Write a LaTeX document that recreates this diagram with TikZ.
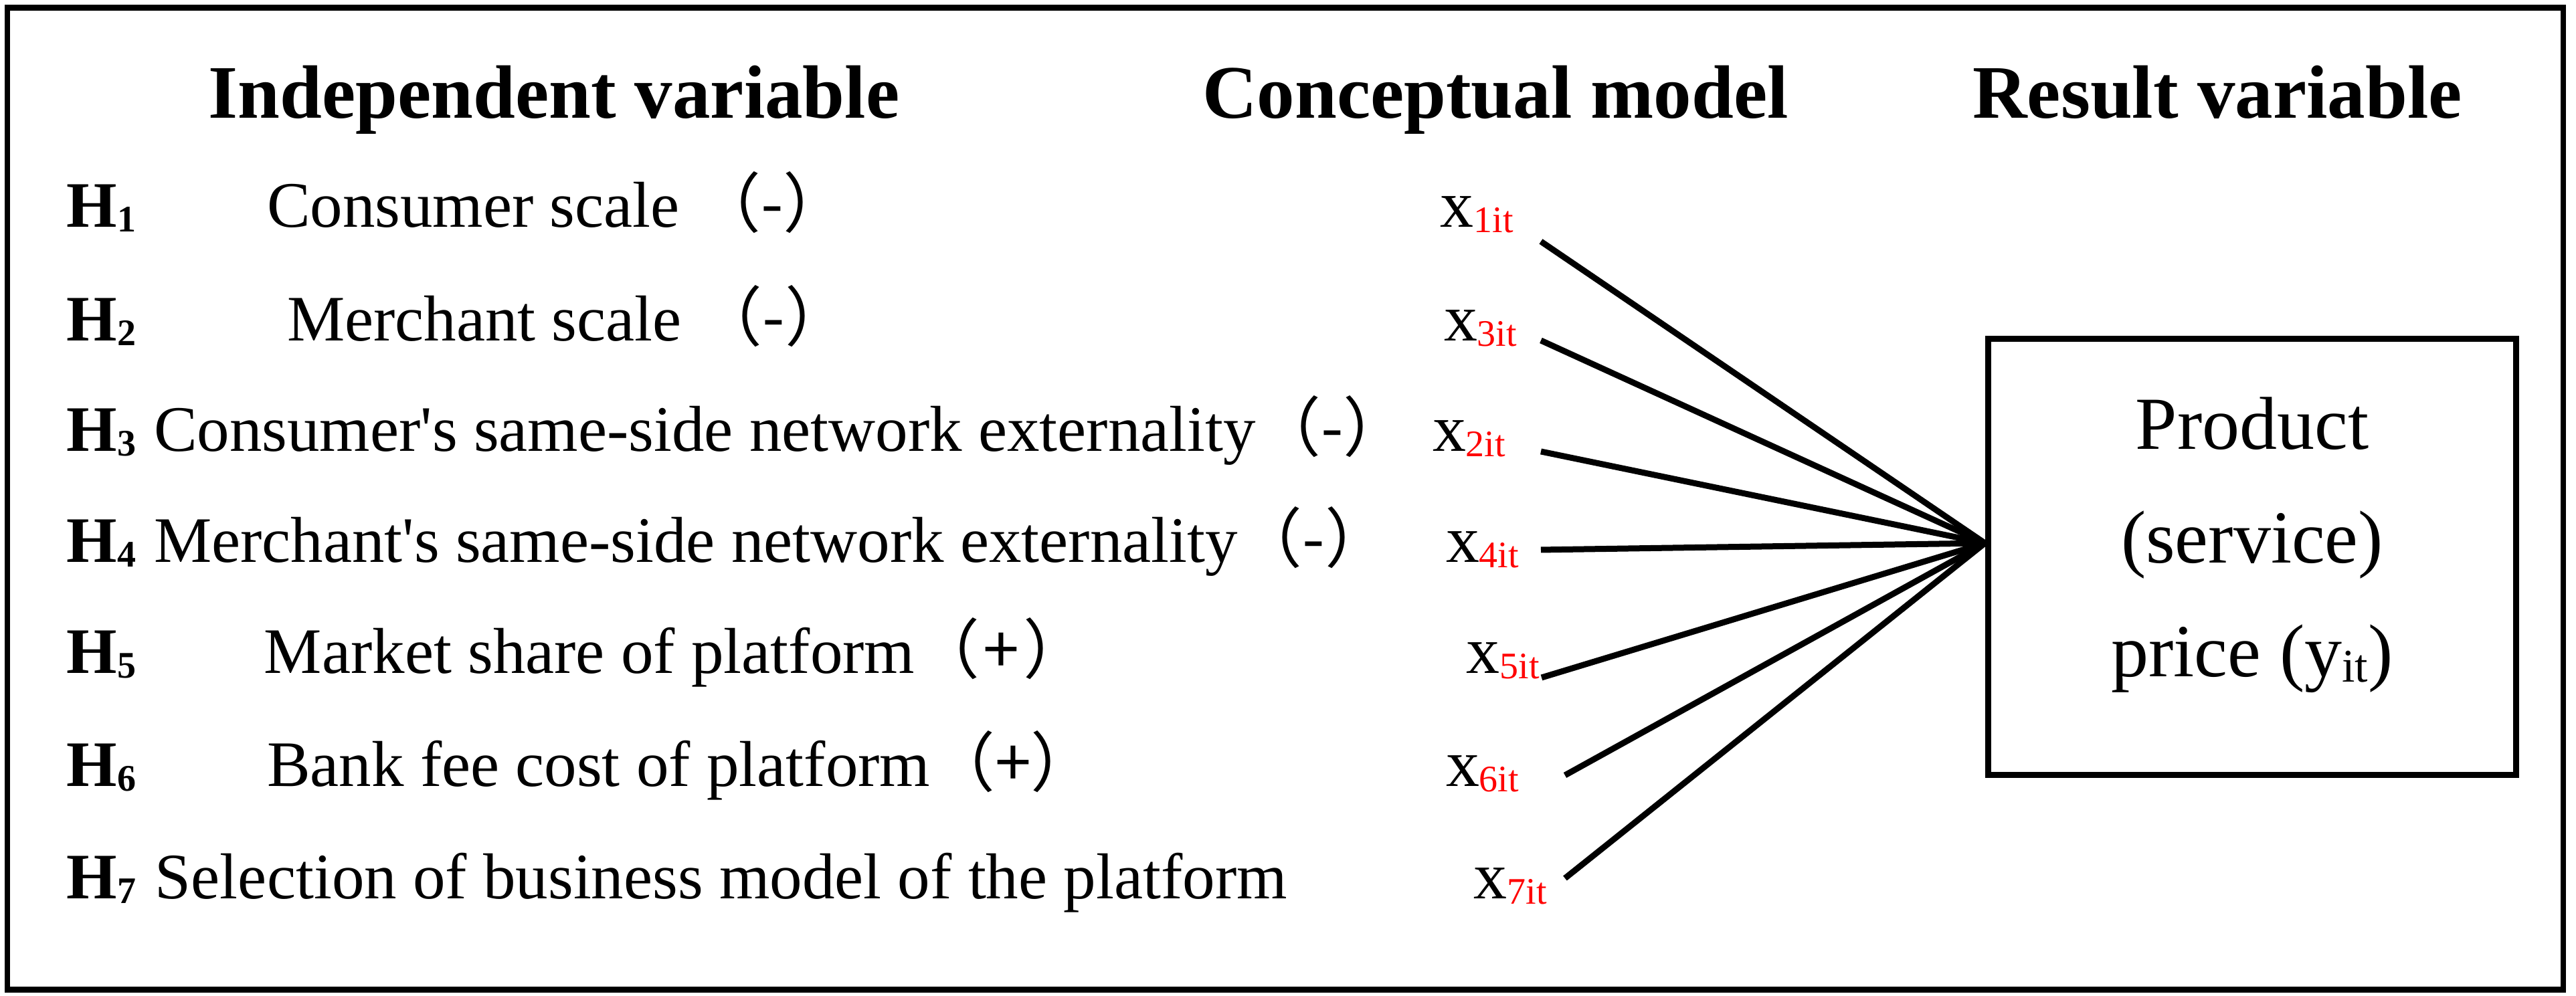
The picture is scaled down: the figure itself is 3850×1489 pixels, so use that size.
\documentclass[tikz,border=0pt]{standalone}
\usepackage{fontspec}
\setmainfont{Liberation Serif}
\newfontfamily\cjk{Noto Sans CJK SC}
\usepackage{tikz}
\usepackage{xcolor}

\newcommand{\hno}[1]{\textbf{H}\raisebox{-0.7pt}{\fontsize{5.6}{6}\selectfont\bfseries #1}}
\newcommand{\xno}[1]{x\raisebox{-0.8pt}{\fontsize{5.6}{6}\selectfont\color{red}#1it}}
\newcommand{\signmark}[2][0em]{{\cjk（\kern#1#2\kern#1）}}

\tikzset{
  head/.style={font=\fontsize{11.3}{13}\selectfont\bfseries, anchor=base, inner sep=0},
  hyp/.style={font=\fontsize{9.7}{12}\selectfont, anchor=base west, inner sep=0},
  var/.style={font=\fontsize{10}{12}\selectfont, anchor=base west, inner sep=0},
  link/.style={line width=0.9pt},
  frame/.style={line width=0.9pt}
}

\begin{document}
\begin{tikzpicture}[x=0.1pt,y=0.1pt,yscale=-1,xscale=1]
\useasboundingbox (0,0) rectangle (3850,1489);

%Shape: Rectangle
\draw [frame] (11,12) rectangle (3831,1480) ;

% Text Node
\node [head] (ind) at (828,177) {Independent variable};
% Text Node
\node [head] (con) at (2235,177) {Conceptual model};
% Text Node
\node [head] (res) at (3314,177) {Result variable};

% Text Node
\node [hyp] (h1) at (98,340) {\hno{1}};
\node [hyp] (h2) at (98,510) {\hno{2}};
\node [hyp] (h3) at (98,675) {\hno{3}};
\node [hyp] (h4) at (98,841) {\hno{4}};
\node [hyp] (h5) at (98,1007) {\hno{5}};
\node [hyp] (h6) at (98,1176) {\hno{6}};
\node [hyp] (h7) at (98,1344) {\hno{7}};

% Text Node
\node [hyp] (t1) at (397,340) {Consumer scale \signmark{-}};
\node [hyp] (t2) at (427,510) {Merchant scale \signmark{-}};
\node [hyp] (t3) at (228,675) {Consumer\textquotesingle s same-side network externality\signmark{-}};
\node [hyp] (t4) at (228,841) {Merchant\textquotesingle s same-side network externality\signmark{-}};
\node [hyp] (t5) at (393,1007) {Market share of platform\signmark[0.06em]{+}};
\node [hyp] (t6) at (397,1176) {Bank fee cost of platform\signmark{+}};
\node [hyp] (t7) at (230,1344) {Selection of business model of the platform};

% Text Node
\node [var] (x1) at (2151,340) {\xno{1}};
\node [var] (x3) at (2156,510) {\xno{3}};
\node [var] (x2) at (2139,675) {\xno{2}};
\node [var] (x4) at (2159,841) {\xno{4}};
\node [var] (x5) at (2190,1007) {\xno{5}};
\node [var] (x6) at (2159,1176) {\xno{6}};
\node [var] (x7) at (2201,1344) {\xno{7}};

%Shape: Rectangle
\node [draw, line width=0.9pt, minimum width=79pt, minimum height=65.2pt, inner sep=0,
  font=\fontsize{11.2}{17}\selectfont, align=center] (price) at (3366,833)
  {Product\\(service)\\price (y\raisebox{-0.8pt}{\fontsize{7}{8}\selectfont it})\rule[-6pt]{0pt}{6pt}};

\coordinate (hub) at ([yshift=-2.1pt]price.west);
\coordinate (s1) at (2303,361);
\coordinate (s3) at (2303,509);
\coordinate (s2) at (2303,675);
\coordinate (s4) at (2303,822);
\coordinate (s5) at (2304,1013);
\coordinate (s6) at (2339,1159);
\coordinate (s7) at (2339,1313);

%Straight Lines
\draw [link] (s1) -- (hub) ;
\draw [link] (s3) -- (hub) ;
\draw [link] (s2) -- (hub) ;
\draw [link] (s4) -- (hub) ;
\draw [link] (s5) -- (hub) ;
\draw [link] (s6) -- (hub) ;
\draw [link] (s7) -- (hub) ;

\end{tikzpicture}
\end{document}
